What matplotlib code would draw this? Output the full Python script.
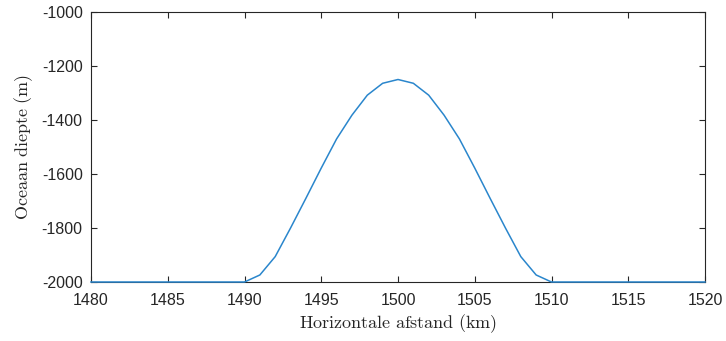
import matplotlib
matplotlib.use("Agg")
import matplotlib.pyplot as plt
import numpy as np

# Horizontal distance (km) and ocean depth (m) along the profile
afstand_km = np.arange(1480, 1521)
diepte_m = [
    -2000, -2000, -2000, -2000, -2000, -2000, -2000, -2000, -2000, -2000,  # 1480-1489
    -2000, -1974, -1906, -1800, -1690, -1578, -1470, -1382, -1308, -1264,  # 1490-1499
    -1250,                                                                  # 1500
    -1264, -1308, -1382, -1470, -1578, -1690, -1800, -1906, -1974, -2000,  # 1501-1510
    -2000, -2000, -2000, -2000, -2000, -2000, -2000, -2000, -2000, -2000,  # 1511-1520
]
x_ticks = [1480, 1485, 1490, 1495, 1500, 1505, 1510, 1515, 1520]
y_ticks = [-2000, -1800, -1600, -1400, -1200, -1000]

plt.rcParams["mathtext.fontset"] = "cm"

fig = plt.figure(figsize=(7.26, 3.41), dpi=100)
ax = fig.add_axes([91 / 726, 59 / 341, 614 / 726, 270 / 341])

ax.plot(afstand_km, diepte_m, color="#2a86cc", linewidth=1.1, zorder=3, clip_on=False)

ax.set_xlim(1480, 1520)
ax.set_ylim(-2000, -1000)
ax.set_xticks(x_ticks)
ax.set_yticks(y_ticks)
ax.set_xticklabels([str(t) for t in x_ticks], fontfamily="Liberation Sans", fontsize=11.5, color="#262626")
ax.set_yticklabels([str(t) for t in y_ticks], fontfamily="Liberation Sans", fontsize=11.5, color="#262626")

ax.tick_params(direction="in", length=4, width=0.8, color="#262626",
               top=True, right=True)
ax.tick_params(axis="x", pad=8)
ax.tick_params(axis="y", pad=6)
for s in ax.spines.values():
    s.set_color("#262626")
    s.set_linewidth(0.8)

ax.set_xlabel(r"$\mathrm{Horizontale\ afstand\ (km)}$", fontsize=13, color="#262626", labelpad=3)
ax.set_ylabel(r"$\mathrm{Oceaan\ diepte\ (m)}$", fontsize=13, color="#262626", labelpad=5)

fig.savefig("out.png", dpi=100)
